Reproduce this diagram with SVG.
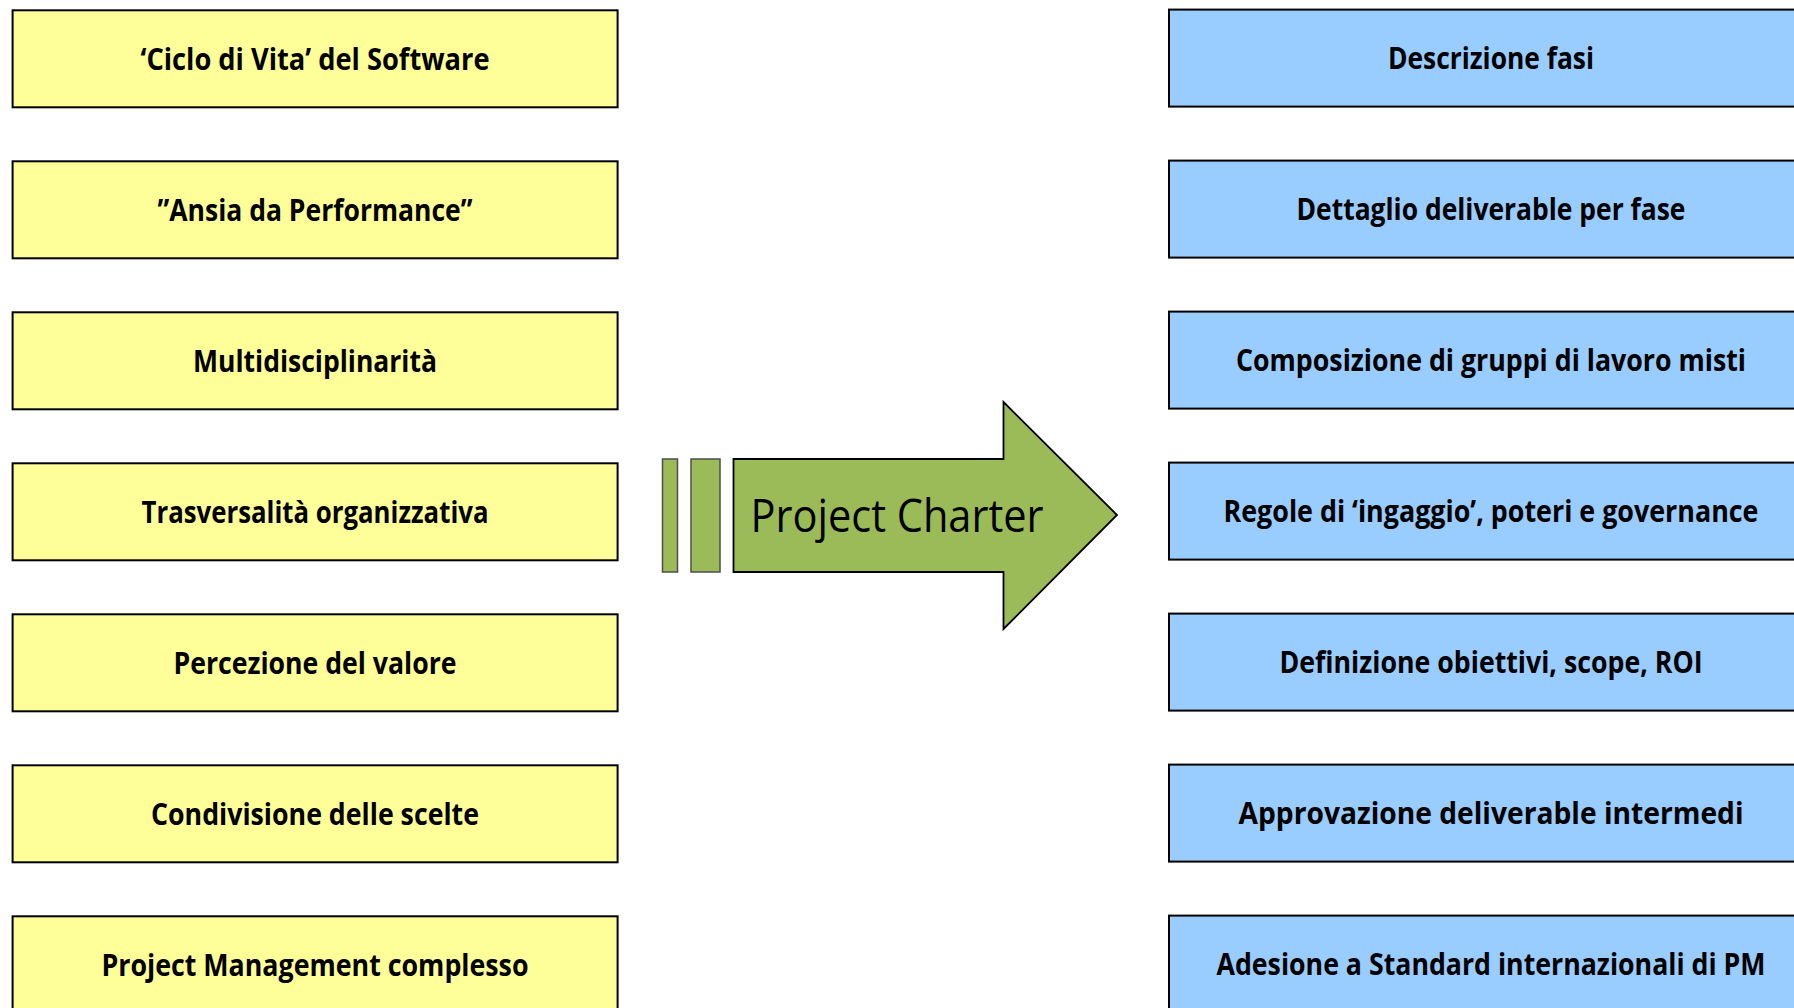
<svg xmlns="http://www.w3.org/2000/svg" width="1794" height="1008" viewBox="0 0 1794 1008">
<style>
.bg{fill:#ffffff}
.left{fill:#FFFF99;stroke:#000;stroke-width:2}
.right{fill:#99CCFF;stroke:#000;stroke-width:2}
.lbl{font-family:"Open Sans","Liberation Sans",sans-serif;font-weight:bold;font-size:30px;fill:#000;text-anchor:middle}
.green{fill:#9BBB59;stroke:#000;stroke-width:1.8}
.bar{fill:#9BBB59;stroke:#4d4d4d;stroke-width:1.5}
.pc{font-family:"Open Sans","Liberation Sans",sans-serif;font-size:45px;fill:#000}
</style>
<rect class="bg" x="0" y="0" width="1794" height="1008"/>
<g id="left-nodes">
<g id="l1"><rect class="left" x="12.6" y="10.3" width="605" height="97"/><text class="lbl" x="315" y="70" textLength="349" lengthAdjust="spacingAndGlyphs">‘Ciclo di Vita’ del Software</text></g>
<g id="l2"><rect class="left" x="12.6" y="161.3" width="605" height="97"/><text class="lbl" x="315" y="221" textLength="315" lengthAdjust="spacingAndGlyphs">”Ansia da Performance”</text></g>
<g id="l3"><rect class="left" x="12.6" y="312.3" width="605" height="97"/><text class="lbl" x="315" y="372" textLength="244" lengthAdjust="spacingAndGlyphs">Multidisciplinarità</text></g>
<g id="l4"><rect class="left" x="12.6" y="463.3" width="605" height="97"/><text class="lbl" x="315" y="523" textLength="347" lengthAdjust="spacingAndGlyphs">Trasversalità organizzativa</text></g>
<g id="l5"><rect class="left" x="12.6" y="614.3" width="605" height="97"/><text class="lbl" x="315" y="674" textLength="283" lengthAdjust="spacingAndGlyphs">Percezione del valore</text></g>
<g id="l6"><rect class="left" x="12.6" y="765.3" width="605" height="97"/><text class="lbl" x="315" y="825" textLength="328" lengthAdjust="spacingAndGlyphs">Condivisione delle scelte</text></g>
<g id="l7"><rect class="left" x="12.6" y="916.3" width="605" height="97"/><text class="lbl" x="315" y="976" textLength="427" lengthAdjust="spacingAndGlyphs">Project Management complesso</text></g>
</g>
<g id="right-nodes">
<g id="r1"><rect class="right" x="1169" y="9.6" width="640" height="97"/><text class="lbl" x="1491" y="69.3" textLength="206" lengthAdjust="spacingAndGlyphs">Descrizione fasi</text></g>
<g id="r2"><rect class="right" x="1169" y="160.6" width="640" height="97"/><text class="lbl" x="1491" y="220.3" textLength="389" lengthAdjust="spacingAndGlyphs">Dettaglio deliverable per fase</text></g>
<g id="r3"><rect class="right" x="1169" y="311.6" width="640" height="97"/><text class="lbl" x="1491" y="371.3" textLength="510" lengthAdjust="spacingAndGlyphs">Composizione di gruppi di lavoro misti</text></g>
<g id="r4"><rect class="right" x="1169" y="462.6" width="640" height="97"/><text class="lbl" x="1491" y="522.3" textLength="535" lengthAdjust="spacingAndGlyphs">Regole di ‘ingaggio’, poteri e governance</text></g>
<g id="r5"><rect class="right" x="1169" y="613.6" width="640" height="97"/><text class="lbl" x="1491" y="673.3" textLength="423" lengthAdjust="spacingAndGlyphs">Definizione obiettivi, scope, ROI</text></g>
<g id="r6"><rect class="right" x="1169" y="764.6" width="640" height="97"/><text class="lbl" x="1491" y="824.3" textLength="505" lengthAdjust="spacingAndGlyphs">Approvazione deliverable intermedi</text></g>
<g id="r7"><rect class="right" x="1169" y="915.6" width="640" height="97"/><text class="lbl" x="1491" y="975.3" textLength="549" lengthAdjust="spacingAndGlyphs">Adesione a Standard internazionali di PM</text></g>
</g>
<g id="project-charter">
<rect class="bar" x="662.5" y="459" width="15" height="113"/>
<rect class="bar" x="691" y="459" width="29" height="113"/>
<polygon class="green" points="733.5,459 1003.5,459 1003.5,402 1117,515 1003.5,629 1003.5,572 733.5,572"/>
<text class="pc" x="750.5" y="532" textLength="293" lengthAdjust="spacingAndGlyphs">Project Charter</text>
</g>
<g id="connectors"/>
</svg>
